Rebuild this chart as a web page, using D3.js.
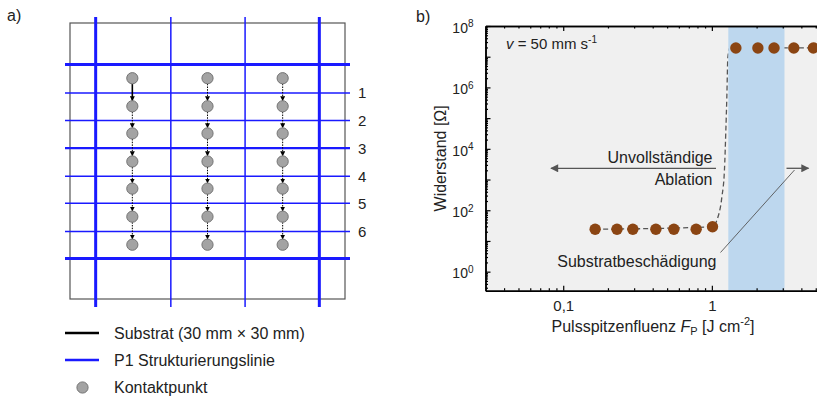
<!DOCTYPE html>
<html>
<head>
<meta charset="utf-8">
<script src="https://cdn.jsdelivr.net/npm/d3@7"></script>
<style>
  body { margin: 0; background: #fff; }
  svg { font-family: "Liberation Sans", Arial, sans-serif; display: block; }
</style>
</head>
<body>
<svg id="chart" width="817" height="398"></svg>
<script>
// ---- panel a) layout, in mm on the 30 mm x 30 mm substrate ----
const substrateSize = 30;
const p1Vertical = [2.8, 11, 19.1, 27.2];
const p1VerticalThick = [true, false, false, true];
const p1Horizontal = [4.5, 7.6, 10.6, 13.6, 16.65, 19.6, 22.65, 25.6];
const p1HorizontalWidth = [3, 1.5, 1.5, 2.2, 1.5, 1.5, 1.5, 3];
const rowLabels = ['1', '2', '3', '4', '5', '6'];
const contactColumns = [6.8, 15, 23.2];
const contactRows = [6.0, 9.05, 12.0, 15.05, 18.0, 21.05, 24.1];
const legendItems = ['Substrat (30 mm \u00d7 30 mm)', 'P1 Strukturierungslinie', 'Kontaktpunkt'];

// ---- panel b) data ----
const lowFluence = [0.164, 0.23, 0.294, 0.42, 0.555, 0.784, 1.01];
const lowResistance = [24, 24, 24, 24, 24, 24, 29];
const highFluence = [1.45, 2.04, 2.62, 3.56, 4.82];
const highResistance = [1.93e7, 1.93e7, 1.93e7, 1.93e7, 1.93e7];
const fitFluence = [0.164, 1.01, 1.08, 1.168, 1.215, 1.242, 1.261, 1.281, 1.32, 10];
const fitResistance = [24, 29, 47, 272, 2000, 4e4, 4.8e5, 9.5e6, 1.93e7, 1.93e7];
const damageBand = [1.29, 3.08];
const xMajor = [0.1, 1, 10];
const xLabels = ['0,1', '1'];
const yMajor = [1, 10, 1e2, 1e3, 1e4, 1e5, 1e6, 1e7, 1e8];

const svg = d3.select('#chart');
const blue = '#1a1aff';
const fs = 16;

// ================= panel a =================
const sx = d3.scaleLinear().domain([0, substrateSize]).range([70, 345]);
const sy = d3.scaleLinear().domain([0, substrateSize]).range([23, 299]);

svg.append('text').attr('x', 7).attr('y', 21).attr('font-size', fs).attr('fill', '#222').text('a)');

const left = svg.append('g');
left.append('rect')
    .attr('x', sx(0)).attr('y', sy(0))
    .attr('width', sx(substrateSize) - sx(0)).attr('height', sy(substrateSize) - sy(0))
    .attr('fill', 'none').attr('stroke', '#555').attr('stroke-width', 1.2);

left.selectAll('.vline').data(p1Vertical).enter().append('line')
    .attr('x1', d => sx(d)).attr('x2', d => sx(d))
    .attr('y1', sy(0) - 6).attr('y2', sy(substrateSize) + 8)
    .attr('stroke', blue)
    .attr('stroke-width', (d, i) => p1VerticalThick[i] ? 3 : 1.5);

left.selectAll('.hline').data(p1Horizontal).enter().append('line')
    .attr('y1', d => sy(d)).attr('y2', d => sy(d))
    .attr('x1', sx(0) - 5).attr('x2', sx(substrateSize) + 5)
    .attr('stroke', blue)
    .attr('stroke-width', (d, i) => p1HorizontalWidth[i]);

left.selectAll('.rowlabel').data(rowLabels).enter().append('text')
    .attr('x', 358).attr('y', (d, i) => sy(p1Horizontal[i + 1]) + 5.5)
    .attr('font-size', 15).attr('fill', '#222').text(d => d);

const defs = svg.append('defs');
defs.append('marker').attr('id', 'headSmall')
    .attr('viewBox', '0 0 10 10').attr('refX', 9).attr('refY', 5)
    .attr('markerWidth', 5).attr('markerHeight', 5).attr('markerUnits', 'userSpaceOnUse')
    .attr('orient', 'auto')
  .append('path').attr('d', 'M0,0L10,5L0,10Z').attr('fill', '#000');
defs.append('marker').attr('id', 'headGray')
    .attr('viewBox', '0 0 10 10').attr('refX', 9).attr('refY', 5)
    .attr('markerWidth', 9).attr('markerHeight', 8).attr('markerUnits', 'userSpaceOnUse')
    .attr('orient', 'auto')
  .append('path').attr('d', 'M0,0L10,5L0,10Z').attr('fill', '#555');

const r = 5.6;
contactColumns.forEach((cx, ci) => {
  contactRows.slice(1).forEach((cy, ri) => {
    const first = ci === 0 && ri === 0;
    left.append('line')
        .attr('x1', sx(cx)).attr('x2', sx(cx))
        .attr('y1', sy(contactRows[ri]) + r).attr('y2', sy(cy) - r)
        .attr('stroke', '#000')
        .attr('stroke-width', first ? 1.6 : 1)
        .attr('stroke-dasharray', first ? null : '1.5,1.2')
        .attr('marker-end', 'url(#headSmall)');
  });
  left.selectAll(null).data(contactRows).enter().append('circle')
      .attr('cx', sx(cx)).attr('cy', d => sy(d)).attr('r', r)
      .attr('fill', '#a3a3a3').attr('stroke', '#747474').attr('stroke-width', 1);
});

// legend
const legendY = [333, 360, 387.5];
const legend = svg.append('g');
legend.append('line').attr('x1', 65).attr('x2', 99).attr('y1', legendY[0]).attr('y2', legendY[0])
    .attr('stroke', '#000').attr('stroke-width', 2.5);
legend.append('line').attr('x1', 65).attr('x2', 99).attr('y1', legendY[1]).attr('y2', legendY[1])
    .attr('stroke', blue).attr('stroke-width', 2.5);
legend.append('circle').attr('cx', 82.5).attr('cy', legendY[2]).attr('r', r)
    .attr('fill', '#a3a3a3').attr('stroke', '#747474');
legend.selectAll('text').data(legendItems).enter().append('text')
    .attr('x', 114).attr('y', (d, i) => legendY[i] + 5.5)
    .attr('font-size', fs).attr('fill', '#222').text(d => d);

// ================= panel b =================
const x0 = 485.5, x1 = 860.5, yTop = 26, yBot = 290.7;
const x = d3.scaleLog().domain([0.03, 10]).range([x0, x1]);
const y = d3.scaleLog().domain([0.24, 1e8]).range([yBot, yTop]);

svg.append('text').attr('x', 416).attr('y', 22).attr('font-size', fs).attr('fill', '#222').text('b)');

defs.append('clipPath').attr('id', 'plotClip')
  .append('rect').attr('x', x0).attr('y', yTop).attr('width', x1 - x0).attr('height', yBot - yTop);

const plot = svg.append('g').attr('clip-path', 'url(#plotClip)');
plot.append('rect').attr('x', x0).attr('y', yTop).attr('width', x1 - x0).attr('height', yBot - yTop)
    .attr('fill', '#f0f0f0');

const fitLine = d3.line().x(d => x(d[0])).y(d => y(d[1])).curve(d3.curveMonotoneX);
plot.append('path')
    .datum(fitFluence.map((f, i) => [f, fitResistance[i]]))
    .attr('d', fitLine)
    .attr('fill', 'none').attr('stroke', '#555').attr('stroke-width', 1.3)
    .attr('stroke-dasharray', '5,3');

plot.append('rect')
    .attr('x', x(damageBand[0])).attr('y', yTop)
    .attr('width', x(damageBand[1]) - x(damageBand[0])).attr('height', yBot - yTop)
    .attr('fill', '#bdd7ee');

const points = lowFluence.map((f, i) => [f, lowResistance[i]])
    .concat(highFluence.map((f, i) => [f, highResistance[i]]));
plot.selectAll('.pt').data(points).enter().append('circle')
    .attr('cx', d => x(d[0])).attr('cy', d => y(d[1])).attr('r', 5.7)
    .attr('fill', '#8b4513');

// axes
const xMinor = [];
[0.01, 0.1, 1].forEach(b => d3.range(2, 10).forEach(k => {
  const v = b * k;
  if (v > 0.03 && v < 10) xMinor.push(v);
}));
const yMinor = [];
[0.1, 1, 10, 1e2, 1e3, 1e4, 1e5, 1e6, 1e7].forEach(b => d3.range(2, 10).forEach(k => {
  const v = b * k;
  if (v > 0.24 && v < 1e8) yMinor.push(v);
}));

const axisStyle = g => {
  g.select('.domain').attr('stroke', '#000').attr('stroke-width', 1.5);
  g.selectAll('.tick line').attr('stroke', '#000').attr('stroke-width', 1.2);
  g.selectAll('.tick text').attr('fill', '#222');
};

// bottom
svg.append('g').attr('transform', `translate(0,${yBot})`)
    .call(d3.axisBottom(x).tickValues(xMinor).tickSizeInner(-2.5).tickSizeOuter(0).tickFormat(''))
    .call(axisStyle);
svg.append('g').attr('transform', `translate(0,${yBot})`)
    .call(d3.axisBottom(x).tickValues(xMajor).tickSizeInner(-5).tickSizeOuter(0).tickPadding(10)
      .tickFormat((d, i) => xLabels[i] || ''))
    .attr('font-size', 15).attr('font-family', null)
    .call(axisStyle);
// top
svg.append('g').attr('transform', `translate(0,${yTop})`)
    .call(d3.axisTop(x).tickValues(xMinor).tickSizeInner(-2.5).tickSizeOuter(0).tickFormat(''))
    .call(axisStyle);
svg.append('g').attr('transform', `translate(0,${yTop})`)
    .call(d3.axisTop(x).tickValues(xMajor).tickSizeInner(-5).tickSizeOuter(0).tickFormat(''))
    .call(axisStyle);
// left
svg.append('g').attr('transform', `translate(${x0},0)`)
    .call(d3.axisLeft(y).tickValues(yMinor).tickSizeInner(-2.5).tickSizeOuter(0).tickFormat(''))
    .call(axisStyle);
const yAxis = svg.append('g').attr('transform', `translate(${x0},0)`)
    .call(d3.axisLeft(y).tickValues(yMajor).tickSizeInner(-5).tickSizeOuter(0).tickPadding(12)
      .tickFormat(''))
    .attr('font-size', 14).attr('font-family', null)
    .call(axisStyle);
yAxis.selectAll('.tick').filter(d => Math.round(Math.log10(d)) % 2 === 0)
  .select('text')
    .attr('dy', '0.45em')
    .text('10')
  .append('tspan')
    .attr('dy', '-0.55em').attr('font-size', 10)
    .text(d => Math.round(Math.log10(d)));

// axis titles
svg.append('text')
    .attr('transform', `translate(446,${(yTop + yBot) / 2}) rotate(-90)`)
    .attr('text-anchor', 'middle').attr('font-size', fs).attr('fill', '#222')
    .text('Widerstand [\u03a9]');
const xTitle = svg.append('text')
    .attr('x', 653).attr('y', 332).attr('text-anchor', 'middle')
    .attr('font-size', fs).attr('fill', '#222');
xTitle.append('tspan').text('Pulsspitzenfluenz ');
xTitle.append('tspan').attr('font-style', 'italic').text('F');
xTitle.append('tspan').attr('font-size', 11).attr('dy', 3).text('P');
xTitle.append('tspan').attr('dy', -3).text(' [J cm');
xTitle.append('tspan').attr('font-size', 11).attr('dy', -7).text('-2');
xTitle.append('tspan').attr('dy', 7).text(']');

// annotations
const vLabel = svg.append('text').attr('x', 506).attr('y', 48.5).attr('font-size', 15).attr('fill', '#222');
vLabel.append('tspan').attr('font-style', 'italic').text('v');
vLabel.append('tspan').text(' = 50 mm s');
vLabel.append('tspan').attr('font-size', 10).attr('dy', -6).text('-1');

svg.append('text').attr('x', 712.5).attr('y', 162.5).attr('text-anchor', 'end')
    .attr('font-size', fs).attr('fill', '#222').text('Unvollst\u00e4ndige');
svg.append('text').attr('x', 712.5).attr('y', 184.5).attr('text-anchor', 'end')
    .attr('font-size', fs).attr('fill', '#222').text('Ablation');
svg.append('line').attr('x1', 716).attr('x2', 551).attr('y1', 168.3).attr('y2', 168.3)
    .attr('stroke', '#555').attr('stroke-width', 1.3).attr('marker-end', 'url(#headGray)');
svg.append('line').attr('x1', 786.5).attr('x2', 808.5).attr('y1', 168.3).attr('y2', 168.3)
    .attr('stroke', '#555').attr('stroke-width', 1.3).attr('marker-end', 'url(#headGray)');

svg.append('text').attr('x', 716.5).attr('y', 266.5).attr('text-anchor', 'end')
    .attr('font-size', fs).attr('fill', '#222').text('Substratbesch\u00e4digung');
svg.append('line').attr('x1', 720.5).attr('y1', 252.5).attr('x2', 794.5).attr('y2', 170)
    .attr('stroke', '#555').attr('stroke-width', 0.9);
</script>
</body>
</html>
